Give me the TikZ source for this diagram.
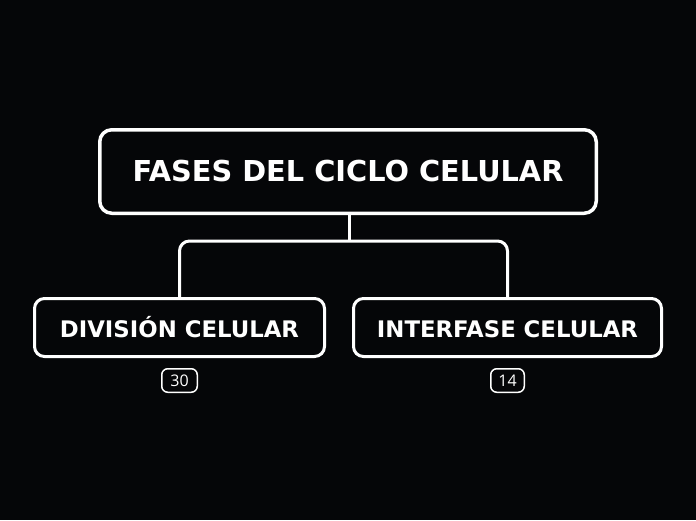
\documentclass[tikz,border=0pt]{standalone}
\usepackage{fontspec}
\setmainfont{Open Sans}
\newfontfamily\titulos{DejaVu Sans}
\usetikzlibrary{positioning}

\definecolor{fondo}{RGB}{5,6,8}

\tikzset{
  tema/.style={draw=white, line width=3.5pt, rounded corners=12pt, text=white,
    font=\titulos\fontsize{28.8}{34}\selectfont\bfseries, minimum width=496.5pt, minimum height=83.5pt},
  subtema/.style={draw=white, line width=3pt, rounded corners=10pt, text=white,
    font=\titulos\fontsize{22.8}{27}\selectfont\bfseries, minimum height=58pt,
    text height=19.5pt, text depth=0pt},
  contador/.style={draw=white, line width=1.5pt, rounded corners=6pt, text=white,
    font=\fontsize{16}{18}\selectfont, minimum height=23.5pt, inner sep=0pt},
  rama/.style={draw=white, line width=3pt, rounded corners=10pt}
}

\begin{document}
\begin{tikzpicture}[x=1pt, y=-1pt]
  \fill[fondo] (0,0) rectangle (696,520);
  \useasboundingbox (0,0) rectangle (696,520);

  \node[tema] (titulo) at (348,171.5) {FASES DEL CICLO CELULAR};
  \node[subtema, minimum width=290pt] (division) at (179.5,327.5) {DIVISIÓN CELULAR};
  \node[subtema, minimum width=308pt] (interfase) at (507.5,327.5) {INTERFASE CELULAR};

  \node[contador, minimum width=35.5pt] (n30) at (179.5,380.5) {30};
  \node[contador, minimum width=33.5pt] (n14) at (507.5,380.5) {14};

  % conectores
  \coordinate (union) at (349,241);
  \draw[rama] (titulo.south -| union) -- (union);
  \draw[rama] (division.north) |- (union) -| (interfase.north);
\end{tikzpicture}
\end{document}
